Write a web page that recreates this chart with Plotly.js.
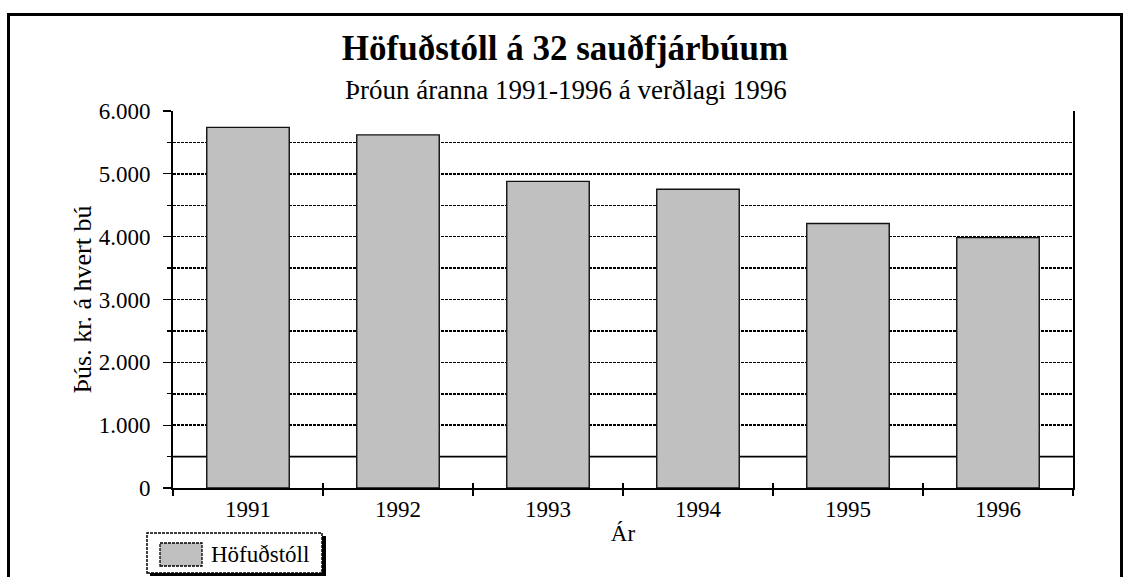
<!DOCTYPE html>
<html>
<head>
<meta charset="utf-8">
<script src="https://cdn.plot.ly/plotly-3.0.1.min.js"></script>
<style>html,body{margin:0;padding:0;background:#fff;}#chart{width:1130px;height:577px;}</style>
</head>
<body>
<div id="chart"></div>
<script>
const years = ['1991', '1992', '1993', '1994', '1995', '1996'];
const hofudstoll = [5740, 5620, 4880, 4755, 4210, 3985];
const seriesName = 'Höfuðstóll';
const chartTitle = 'Höfuðstóll á 32 sauðfjárbúum';
const chartSubtitle = 'Þróun áranna 1991-1996 á verðlagi 1996';
const yTitle = 'Þús. kr. á hvert bú';
const xTitle = 'Ár';

const FONT = 'Liberation Serif';
const W = 1130, H = 577, L = 173, R = 57, T = 111, B = 89;
const pw = W - L - R, ph = H - T - B;
const px = x => (x - L) / pw;
const py = y => (H - B - y) / ph;

const traces = [
  {
    type: 'bar', x: years, y: hofudstoll, name: seriesName,
    width: 0.55,
    marker: {color: '#c0c0c0', line: {color: '#111', width: 1.4}},
    showlegend: false, hoverinfo: 'x+y'
  },
  {
    type: 'scatter', mode: 'none', x: years, y: hofudstoll, xaxis: 'x2',
    showlegend: false, hoverinfo: 'skip'
  }
];

const layout = {
  width: W, height: H,
  margin: {l: L, r: R, t: T, b: B, pad: 0},
  paper_bgcolor: '#fff', plot_bgcolor: '#fff',
  separators: ',.',
  font: {family: FONT, color: '#000', size: 23},
  title: {
    text: chartTitle, x: 0.5, xanchor: 'center', xref: 'container',
    y: 1 - 48 / H, yanchor: 'middle', yref: 'container',
    font: {family: FONT, size: 35, weight: 'bold', color: '#000'}
  },
  bargap: 0.45,
  xaxis: {
    type: 'category', range: [-0.5, 5.5],
    showline: true, linecolor: '#000', linewidth: 1.5, mirror: false,
    ticks: 'outside', ticklen: 6, tickwidth: 1.3, tickcolor: '#000',
    tickson: 'boundaries', showgrid: false,
    tickfont: {family: FONT, size: 23},
    title: {text: xTitle, font: {family: FONT, size: 23}, standoff: 4}
  },
  xaxis2: {
    type: 'category', overlaying: 'x', range: [-0.5, 5.5], side: 'bottom',
    ticks: 'inside', ticklen: 5, tickwidth: 1.3, tickcolor: '#000',
    tickson: 'boundaries', showticklabels: false, showgrid: false, showline: false
  },
  yaxis: {
    range: [0, 6000], dtick: 1000, tickformat: ',d',
    showline: true, linecolor: '#000', linewidth: 2, mirror: true,
    ticks: 'outside', ticklen: 8, tickwidth: 1.3, tickcolor: '#000',
    showgrid: true, gridcolor: '#000', gridwidth: 1.5, griddash: '3px,1px',
    zeroline: false,
    minor: {dtick: 500, ticks: 'outside', ticklen: 4, tickwidth: 1.3, tickcolor: '#000',
            showgrid: true, gridcolor: '#000', gridwidth: 1.5, griddash: '3px,1px'},
    tickfont: {family: FONT, size: 23},
    ticklabelstandoff: 8,
    title: {text: yTitle, font: {family: FONT, size: 26}, standoff: 0}
  },
  shapes: [
    // solid reference gridline at 500
    {type: 'line', xref: 'paper', x0: 0, x1: 1, yref: 'y', y0: 500, y1: 500,
     line: {color: '#000', width: 1.6}, layer: 'below'},
    // outer frame
    {type: 'rect', xref: 'paper', yref: 'paper',
     x0: px(8.5), x1: px(1121.5), y0: py(640), y1: py(14.5),
     line: {color: '#000', width: 3}, fillcolor: 'rgba(0,0,0,0)', layer: 'above'},
    // legend shadow
    {type: 'rect', xref: 'paper', yref: 'paper',
     x0: px(150), x1: px(326), y0: py(576), y1: py(536),
     line: {width: 0}, fillcolor: '#000', layer: 'above'},
    // legend box
    {type: 'rect', xref: 'paper', yref: 'paper',
     x0: px(147), x1: px(322), y0: py(573), y1: py(533),
     line: {color: '#000', width: 1.5, dash: '3px,1px'}, fillcolor: '#fff', layer: 'above'},
    // legend swatch
    {type: 'rect', xref: 'paper', yref: 'paper',
     x0: px(160), x1: px(202), y0: py(566), y1: py(543),
     line: {color: '#000', width: 1.3, dash: '3px,1px'}, fillcolor: '#c0c0c0', layer: 'above'}
  ],
  annotations: [
    {text: chartSubtitle, xref: 'paper', yref: 'paper', x: px(566), y: py(90),
     xanchor: 'center', yanchor: 'middle', showarrow: false,
     font: {family: FONT, size: 27, color: '#000'}},
    {text: seriesName, xref: 'paper', yref: 'paper', x: px(209), y: py(554),
     xanchor: 'left', yanchor: 'middle', showarrow: false,
     font: {family: FONT, size: 23, color: '#000'}}
  ]
};

Plotly.newPlot('chart', traces, layout, {displayModeBar: false, staticPlot: true});
</script>
</body>
</html>
